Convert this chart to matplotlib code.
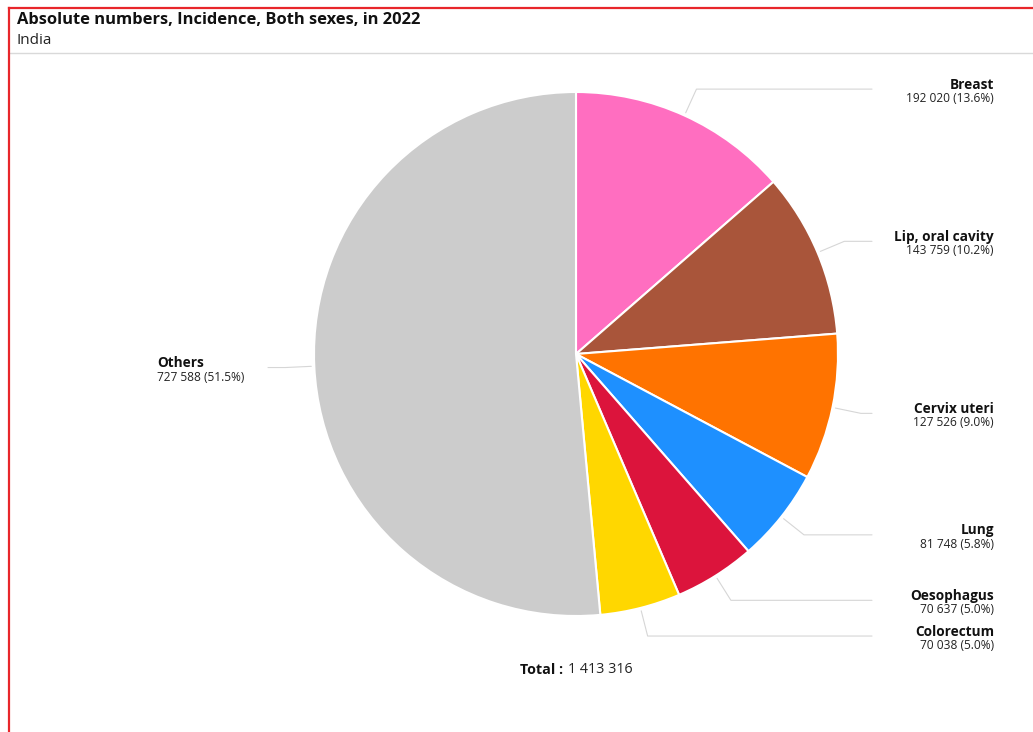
import matplotlib.pyplot as plt
import numpy as np

plt.rcParams['font.family'] = ['Open Sans', 'DejaVu Sans']

# data
sites = ['Breast', 'Lip, oral cavity', 'Cervix uteri', 'Lung',
         'Oesophagus', 'Colorectum', 'Others']
cases = [192020, 143759, 127526, 81748, 70637, 70038, 727588]
colors = ['#ff6ec0', '#a9553a', '#ff7300', '#1e90ff',
          '#dc143c', '#ffd700', '#cccccc']

title = 'Absolute numbers, Incidence, Both sexes, in 2022'
subtitle = 'India'

W, H = 1033, 732


def fmt(n):
    return f'{n:,}'.replace(',', ' ')


fig = plt.figure(figsize=(W / 100, H / 100), dpi=100)
ax = fig.add_axes([0, 0, 1, 1])

cx, cy, r = 576, H - 354, 262
wedges, _ = ax.pie(cases, colors=colors, startangle=90, counterclock=False,
                   center=(cx, cy), radius=r,
                   wedgeprops=dict(edgecolor='white', linewidth=1.5))
ax.set_xlim(0, W)
ax.set_ylim(0, H)
ax.axis('off')

total = sum(cases)
line_col = '#d6d6d6'
for w, name, n in zip(wedges, sites, cases):
    mid = np.deg2rad((w.theta1 + w.theta2) / 2)
    x0, y0 = cx + (r + 3) * np.cos(mid), cy + (r + 3) * np.sin(mid)
    x1, y1 = cx + 291 * np.cos(mid), cy + 291 * np.sin(mid)
    right = np.cos(mid) >= 0
    x2 = 872 if right else 268
    ax.plot([x0, x1, x2], [y0, y1, y1], color=line_col, lw=0.8,
            solid_capstyle='round')
    tx = 994 if right else 157
    ha = 'right' if right else 'left'
    ax.text(tx, y1 + 4.5, name, ha=ha, va='center', fontsize=9.8,
            fontweight='bold', color='#111111')
    ax.text(tx, y1 - 9.5, f'{fmt(n)} ({n / total * 100:.1f}%)', ha=ha,
            va='center', fontsize=8.6, color='#222222')

# total under the pie
ax.text(563, H - 669.5, 'Total :', ha='right', va='center', fontsize=10.3,
        fontweight='bold', color='#111111')
ax.text(568, H - 669.5, fmt(total), ha='left', va='center', fontsize=10.3,
        color='#222222')

# header
ax.text(17, H - 20.5, title, ha='left', va='center', fontsize=11.85,
        fontweight='bold', color='#111111')
ax.text(17, H - 40, subtitle, ha='left', va='center', fontsize=11,
        color='#222222')
ax.plot([10, W], [H - 53, H - 53], color='#d9d9d9', lw=1)

# red frame of the screenshot
ax.plot([9, 9], [0, H - 8], color='#e8262b', lw=1.6)
ax.plot([9, W], [H - 8, H - 8], color='#e8262b', lw=1.6)

fig.savefig('out.png', dpi=100)
